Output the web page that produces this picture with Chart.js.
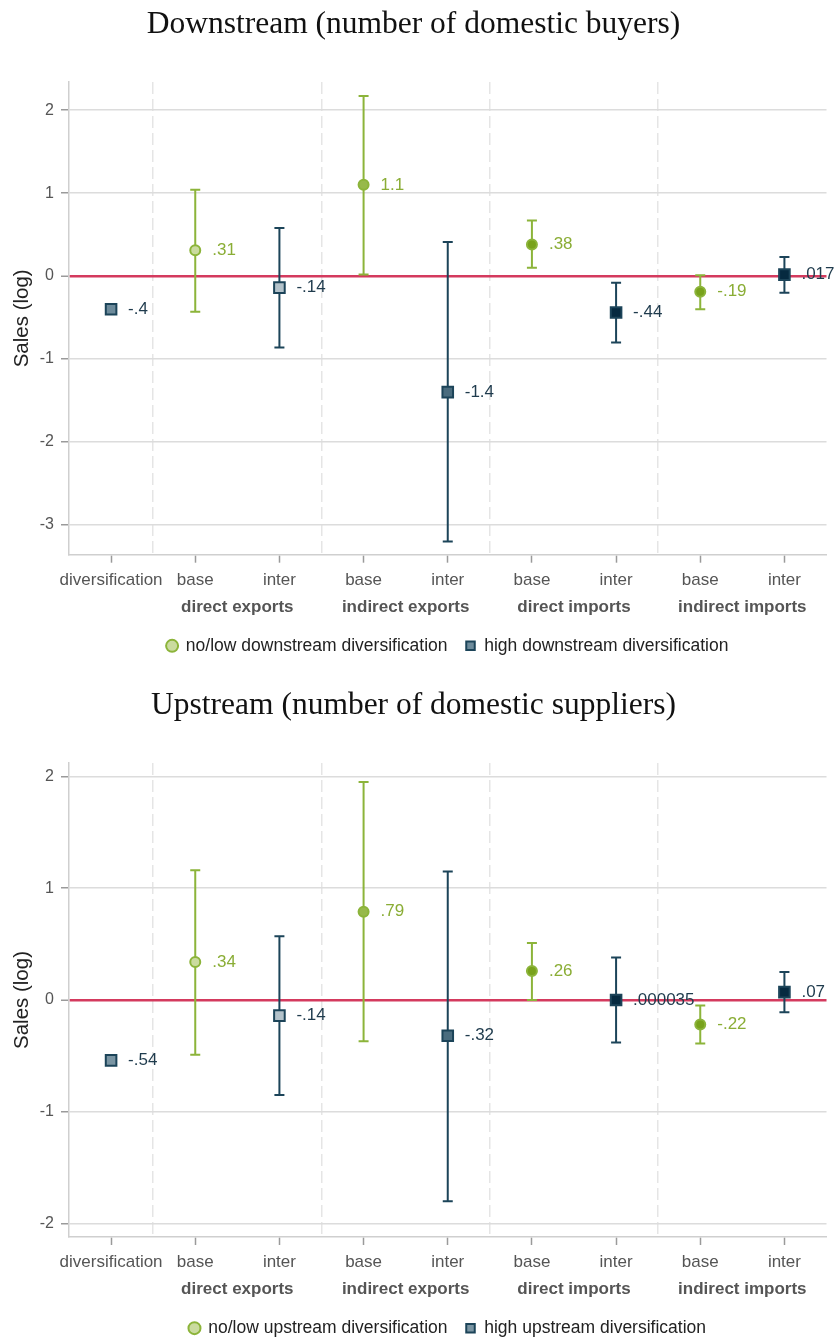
<!DOCTYPE html>
<html>
<head>
<meta charset="utf-8">
<script src="https://cdn.jsdelivr.net/npm/chart.js@4.4.0/dist/chart.umd.min.js"></script>
<style>
  html, body { margin: 0; padding: 0; background: #fff; }
  .wrap { width: 836px; height: 670px; }
  canvas { display: block; }
</style>
</head>
<body>
<div class="wrap"><canvas id="down" width="836" height="670"></canvas></div>
<div class="wrap"><canvas id="up" width="836" height="670"></canvas></div>
<script>
// categories along the x axis and the groups under them
const categories = ['diversification', 'base', 'inter', 'base', 'inter', 'base', 'inter', 'base', 'inter'];
const groups = ['direct exports', 'indirect exports', 'direct imports', 'indirect imports'];

// downstream (number of domestic buyers)
const downTicks = [-3, -2, -1, 0, 1, 2];
const downLowEst = [null, 0.31, null, 1.1, null, 0.38, null, -0.19, null];
const downLowLo  = [null, -0.43, null, 0.02, null, 0.10, null, -0.40, null];
const downLowHi  = [null, 1.04, null, 2.17, null, 0.67, null, 0.01, null];
const downHighEst = [-0.4, null, -0.14, null, -1.4, null, -0.44, null, 0.017];
const downHighLo  = [-0.42, null, -0.86, null, -3.2, null, -0.80, null, -0.20];
const downHighHi  = [-0.38, null, 0.58, null, 0.41, null, -0.08, null, 0.23];

// upstream (number of domestic suppliers)
const upTicks = [-2, -1, 0, 1, 2];
const upLowEst = [null, 0.34, null, 0.79, null, 0.26, null, -0.22, null];
const upLowLo  = [null, -0.49, null, -0.37, null, 0.0, null, -0.39, null];
const upLowHi  = [null, 1.16, null, 1.95, null, 0.51, null, -0.05, null];
const upHighEst = [-0.54, null, -0.14, null, -0.32, null, 0.000035, null, 0.07];
const upHighLo  = [-0.57, null, -0.85, null, -1.80, null, -0.38, null, -0.11];
const upHighHi  = [-0.51, null, 0.57, null, 1.15, null, 0.38, null, 0.25];

const SANS = "'Liberation Sans', Arial, sans-serif";
const GREEN = '#8cb43a';
const NAVY = '#1c4459';
const RED = '#d43a5e';
const gFill = ['', '#cadb9f', '', '#97b94a', '', '#78a21c', '', '#78a21c', ''];
const nFillDown = ['#6d8b9b', '', '#b3c2ca', '', '#4a6c7e', '', '#062a40', '', '#062a40'];
const nFillUp = ['#7a95a3', '', '#b3c2ca', '', '#4a6c7e', '', '#062a40', '', '#062a40'];

Chart.defaults.font.family = SANS;

// stata style: 2 significant digits, no leading zero
function fmt(v) {
  return String(Number(v.toPrecision(2))).replace(/^(-?)0\./, '$1.');
}

function points(est, lo, hi) {
  const out = [];
  est.forEach((v, i) => {
    if (v !== null) out.push({ x: i + 1, y: v, lo: lo[i], hi: hi[i] });
  });
  return out;
}

function fills(est, colors) {
  return colors.filter((c, i) => est[i] !== null);
}

const errorBars = {
  id: 'errorBars',
  beforeDatasetsDraw(chart) {
    const { ctx, scales: { x, y } } = chart;
    chart.data.datasets.forEach(ds => {
      ctx.save();
      ctx.strokeStyle = ds.pointBorderColor;
      ctx.lineWidth = 2;
      ds.data.forEach(p => {
        const px = x.getPixelForValue(p.x);
        const top = y.getPixelForValue(p.hi);
        const bot = y.getPixelForValue(p.lo);
        ctx.beginPath();
        ctx.moveTo(px, top); ctx.lineTo(px, bot);
        ctx.moveTo(px - 5, top); ctx.lineTo(px + 5, top);
        ctx.moveTo(px - 5, bot); ctx.lineTo(px + 5, bot);
        ctx.stroke();
      });
      ctx.restore();
    });
  },
  afterDatasetsDraw(chart) {
    const { ctx, scales: { x, y } } = chart;
    ctx.save();
    ctx.font = '17px ' + SANS;
    ctx.textAlign = 'left';
    ctx.textBaseline = 'middle';
    chart.data.datasets.forEach(ds => {
      ctx.fillStyle = ds.labelColor;
      ds.data.forEach(p => {
        ctx.fillText(fmt(p.y), x.getPixelForValue(p.x) + 17, y.getPixelForValue(p.y));
      });
    });
    ctx.restore();
  }
};

function makeChart(id, o) {
  const low = points(o.lowEst, o.lowLo, o.lowHi);
  const high = points(o.highEst, o.highLo, o.highHi);
  return new Chart(document.getElementById(id), {
    type: 'scatter',
    data: {
      datasets: [
        {
          label: o.lowLabel,
          data: low,
          pointStyle: 'circle',
          pointRadius: 5,
          pointBorderWidth: 2,
          pointBorderColor: GREEN,
          pointBackgroundColor: fills(o.lowEst, gFill),
          labelColor: '#8aad35'
        },
        {
          label: o.highLabel,
          data: high,
          pointStyle: 'rect',
          pointRadius: 7.5,
          pointBorderWidth: 2,
          pointBorderColor: NAVY,
          pointBackgroundColor: fills(o.highEst, o.highFill),
          labelColor: '#1f3b4d'
        }
      ]
    },
    options: {
      responsive: false,
      animation: false,
      events: [],
      layout: { padding: { left: 0, right: 9, top: 0, bottom: o.bottomPad } },
      scales: {
        sep: {
          type: 'linear', position: 'top', min: 0.5, max: 9.5,
          afterBuildTicks: s => { s.ticks = groups.map((g, i) => ({ value: 1.5 + 2 * i })); },
          ticks: { display: false },
          grid: { color: '#e5e5e5', lineWidth: 1.5, drawTicks: false },
          border: { display: false, dash: [12, 5] }
        },
        x: {
          type: 'linear', position: 'bottom', min: 0.5, max: 9.5, weight: 0,
          afterBuildTicks: s => { s.ticks = categories.map((c, i) => ({ value: i + 1 })); },
          ticks: {
            autoSkip: false, maxRotation: 0, padding: 7, color: '#555',
            font: { size: 17 },
            callback: v => categories[Math.round(v) - 1]
          },
          grid: { drawOnChartArea: false, drawTicks: true, tickLength: 8, tickColor: '#9a9a9a', tickWidth: 1.5 },
          border: { color: '#cfcfcf', width: 1.5 }
        },
        grp: {
          type: 'linear', position: 'bottom', min: 0.5, max: 9.5, weight: 1,
          afterBuildTicks: s => { s.ticks = groups.map((g, i) => ({ value: 2.5 + 2 * i })); },
          afterFit: s => { s.height = 22; },
          ticks: {
            autoSkip: false, maxRotation: 0, padding: 0, color: '#555',
            font: { size: 17, weight: 'bold' },
            callback: (v, i) => groups[i]
          },
          grid: { display: false, drawTicks: false },
          border: { display: false }
        },
        y: {
          type: 'linear', min: o.yMin, max: o.yMax,
          afterFit: s => { s.width = 69; },
          afterBuildTicks: s => { s.ticks = o.yTicks.map(v => ({ value: v })); },
          ticks: { padding: 7, color: '#555', font: { size: 16 }, callback: v => String(v) },
          grid: {
            color: c => (c.tick && c.tick.value === 0 ? RED : '#dcdcdc'),
            lineWidth: c => (c.tick && c.tick.value === 0 ? 2.5 : 1.5),
            tickColor: '#9a9a9a', tickLength: 8, tickWidth: 1.5
          },
          border: { color: '#cfcfcf', width: 1.5 },
          title: {
            display: true, text: 'Sales (log)', color: '#222',
            font: { size: 20.5 }, padding: { top: 10, bottom: 0 }
          }
        }
      },
      plugins: {
        title: {
          display: true, text: o.title, color: '#111',
          font: { family: "'Liberation Serif', 'Times New Roman', serif", size: 31.5, weight: 'normal' },
          padding: { top: o.titleTop, bottom: o.titleBottom }
        },
        legend: {
          position: 'bottom', fullSize: false, maxHeight: o.legendHeight,
          labels: {
            usePointStyle: true, boxWidth: 10, boxHeight: 8.5, padding: 18,
            color: '#222', font: { size: 17.5 }
          }
        },
        tooltip: { enabled: false }
      }
    },
    plugins: [errorBars]
  });
}

makeChart('down', {
  title: 'Downstream (number of domestic buyers)',
  titleTop: 5.4, titleBottom: 38.8, legendHeight: 53.5, bottomPad: 5.4,
  yMin: -3.36, yMax: 2.34, yTicks: downTicks,
  lowLabel: 'no/low downstream diversification',
  highLabel: 'high downstream diversification',
  lowEst: downLowEst, lowLo: downLowLo, lowHi: downLowHi,
  highEst: downHighEst, highLo: downHighLo, highHi: downHighHi,
  highFill: nFillDown
});

makeChart('up', {
  title: 'Upstream (number of domestic suppliers)',
  titleTop: 16.4, titleBottom: 38.8, legendHeight: 38.6, bottomPad: 0,
  yMin: -2.12, yMax: 2.12, yTicks: upTicks,
  lowLabel: 'no/low upstream diversification',
  highLabel: 'high upstream diversification',
  lowEst: upLowEst, lowLo: upLowLo, lowHi: upLowHi,
  highEst: upHighEst, highLo: upHighLo, highHi: upHighHi,
  highFill: nFillUp
});
</script>
</body>
</html>
